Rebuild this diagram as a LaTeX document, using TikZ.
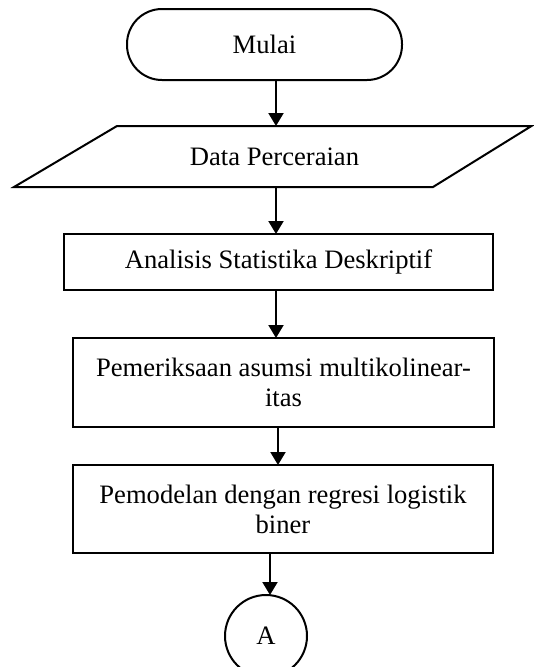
\documentclass[tikz,border=0pt]{standalone}
\usepackage{fontspec}
\setmainfont{Liberation Serif}
\usetikzlibrary{arrows.meta}
\begin{document}
\begin{tikzpicture}[x=1pt,y=-1pt,
  fnt/.style={font=\fontsize{26.6}{30}\selectfont},
  box/.style={draw, line width=2pt, inner sep=0pt, outer sep=0pt, align=center, fnt},
  arr/.style={line width=2pt, -{Triangle[length=13pt,width=15pt]}}]
\useasboundingbox (0,0) rectangle (534,667);
\node[box, rounded corners=35pt, minimum width=275pt, minimum height=71pt] (mulai) at (264.5,44.5) {Mulai};
\draw[line width=2pt, line join=miter] (117,126) -- (531.5,126) -- (433,187) -- (14,187) -- cycle;
\node[fnt, inner sep=0pt] (data) at (274.5,157) {Data Perceraian};
\coordinate (dtop) at (276,126);
\coordinate (dbot) at (276,187);
\node[box, minimum width=429pt, minimum height=56pt] (ana) at (278.5,262) {Analisis Statistika Deskriptif};
\node[box, minimum width=421pt, minimum height=89pt] (pem) at (283.5,382.5) {Pemeriksaan asumsi multikolinear-\\itas};
\node[box, minimum width=420pt, minimum height=88pt] (reg) at (283,509) {Pemodelan dengan regresi logistik\\biner};
\node[box, circle, minimum size=82pt] (A) at (266,636) {A};
\draw[arr] (mulai.south -| dtop) -- (dtop);
\draw[arr] (dbot) -- (dbot |- ana.north);
\draw[arr] ([xshift=-2.5pt]ana.south) -- ([xshift=-2.5pt]ana.south |- pem.north);
\draw[arr] ([xshift=-5.5pt]pem.south) -- ([xshift=-5.5pt]pem.south |- reg.north);
\draw[arr] ([xshift=-13pt]reg.south) -- ([xshift=-13pt]reg.south |- A.north);
\end{tikzpicture}
\end{document}
